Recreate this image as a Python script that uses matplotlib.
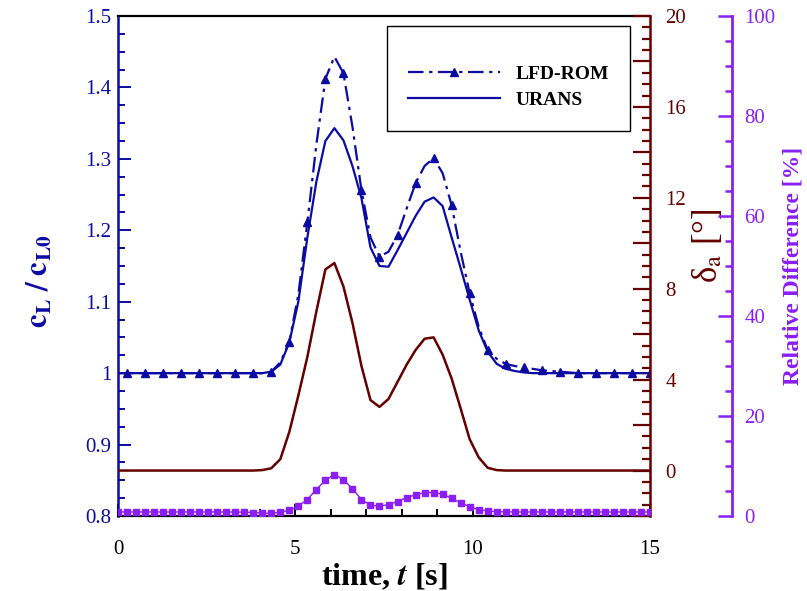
import numpy as np
import matplotlib
matplotlib.use("Agg")
import matplotlib.pyplot as plt
from matplotlib.ticker import MultipleLocator, FuncFormatter
from matplotlib.lines import Line2D

plt.rcParams["font.family"] = "serif"
plt.rcParams["font.serif"] = ["Liberation Serif", "STIXGeneral", "DejaVu Serif"]
plt.rcParams["mathtext.fontset"] = "stix"

BLUE = "#0b0ba3"
MAROON = "#650000"
PURPLE = "#8a1ef5"

# time grid (60 samples over 0..15 s)
time = np.linspace(0, 15, 60)

urans = [1.0] * 17 + [
    1.002, 1.012, 1.043, 1.100, 1.190, 1.268, 1.325, 1.343, 1.326, 1.290,
    1.245, 1.176, 1.150, 1.149, 1.172, 1.196, 1.220, 1.240, 1.246, 1.234,
    1.190, 1.147, 1.103, 1.060, 1.030, 1.013, 1.006, 1.003, 1.001,
] + [1.0] * 14

lfd_rom = [1.0] * 17 + [
    1.002, 1.015, 1.044, 1.110, 1.211, 1.320, 1.412, 1.443, 1.420, 1.345,
    1.256, 1.190, 1.163, 1.170, 1.193, 1.230, 1.266, 1.290, 1.301, 1.280,
    1.235, 1.170, 1.112, 1.065, 1.032, 1.020, 1.013, 1.010, 1.008, 1.006,
    1.004, 1.003, 1.002, 1.001,
] + [1.0] * 9

delta_a = [0.0] * 16 + [
    0.02, 0.1, 0.5, 1.7, 3.3, 5.0, 7.0, 8.85, 9.13, 8.1,
    6.5, 4.6, 3.1, 2.8, 3.15, 3.9, 4.65, 5.3, 5.8, 5.86,
    5.1, 4.05, 2.73, 1.38, 0.58, 0.12, 0.02,
] + [0.0] * 17

rel_diff = [0.8] * 13 + [
    0.78, 0.76, 0.70, 0.58, 0.56, 0.76, 1.16, 1.96, 3.3, 5.3,
    7.16, 8.3, 7.3, 5.44, 3.3, 2.16, 1.96, 2.3, 2.9, 3.7,
    4.24, 4.7, 4.7, 4.36, 3.56, 2.64, 1.84, 1.3, 1.0, 0.88, 0.82,
] + [0.8] * 16

fig = plt.figure(figsize=(8.07, 5.91), dpi=100)
ax = fig.add_axes([118 / 807, 1 - 516 / 591, 532 / 807, 500 / 591])
ax2 = ax.twinx()
ax3 = ax.twinx()

# lift coefficient
ax.plot(time, lfd_rom, color=BLUE, lw=1.6, ls=(0, (7, 2.5, 1.5, 2.5)),
        marker="^", markersize=6, markevery=(1, 2), label="LFD-ROM")
ax.plot(time, urans, color=BLUE, lw=1.6, label="URANS")
ax.set_xlim(0, 15)
ax.set_ylim(0.8, 1.5)
ax.xaxis.set_major_locator(MultipleLocator(5))
ax.xaxis.set_minor_locator(MultipleLocator(1))
ax.yaxis.set_major_locator(MultipleLocator(0.1))
ax.yaxis.set_minor_locator(MultipleLocator(0.025))
ax.yaxis.set_major_formatter(FuncFormatter(lambda v, p: f"{v:g}"))
ax.tick_params(axis="x", which="both", direction="in", colors="black",
               width=1.4, labelsize=15, pad=17)
ax.tick_params(axis="x", which="major", length=9)
ax.tick_params(axis="x", which="minor", length=5)
ax.tick_params(axis="y", which="both", direction="in", color=BLUE,
               labelcolor=BLUE, width=1.4, labelsize=15, pad=5)
ax.tick_params(axis="y", which="major", length=9)
ax.tick_params(axis="y", which="minor", length=5)
for s in ("top", "bottom"):
    ax.spines[s].set_color("black")
    ax.spines[s].set_linewidth(1.6)
ax.spines["left"].set_color(BLUE)
ax.spines["left"].set_linewidth(1.8)
ax.spines["right"].set_visible(False)
ax.set_xlabel("time, $\\mathbfit{t}$ [s]", fontsize=23, fontweight="bold")
ax.xaxis.set_label_coords(0.5, -0.092)
ax.set_ylabel("$\\mathbf{c_L\\ /\\ c_{L0}}$", fontsize=22, color=BLUE)
ax.yaxis.set_label_coords(-0.12, 0.47)

# aileron deflection
ax2.plot(time, delta_a, color=MAROON, lw=1.8)
ax2.set_ylim(-2, 20)
ax2.yaxis.set_major_locator(MultipleLocator(2))
ax2.yaxis.set_minor_locator(MultipleLocator(0.5))
ax2.yaxis.set_major_formatter(
    FuncFormatter(lambda v, p: f"{v:g}" if abs(v % 4) < 1e-6 and v >= 0 else ""))
ax2.tick_params(axis="y", which="both", direction="in", color=MAROON,
                labelcolor=MAROON, width=1.6, labelsize=15, pad=11)
ax2.tick_params(axis="y", which="major", length=12)
ax2.tick_params(axis="y", which="minor", length=6)
for s in ("left", "top", "bottom"):
    ax2.spines[s].set_visible(False)
ax2.spines["right"].set_color(MAROON)
ax2.spines["right"].set_linewidth(1.8)
ax2.set_ylabel("δ$_\\mathrm{a}$ [°]", fontsize=25, color=MAROON)
ax2.yaxis.set_label_coords(1.078, 0.54)

# relative difference
ax3.plot(time, rel_diff, color=PURPLE, lw=1.0, marker="s", markersize=4.2)
ax3.set_ylim(0, 100)
ax3.spines["right"].set_position(("axes", 1.154))
ax3.yaxis.set_major_locator(MultipleLocator(20))
ax3.yaxis.set_minor_locator(MultipleLocator(5))
ax3.tick_params(axis="y", which="both", direction="in", color=PURPLE,
                labelcolor=PURPLE, width=1.8, labelsize=15, pad=9)
ax3.tick_params(axis="y", which="major", length=10)
ax3.tick_params(axis="y", which="minor", length=5)
for s in ("left", "top", "bottom"):
    ax3.spines[s].set_visible(False)
ax3.spines["right"].set_color(PURPLE)
ax3.spines["right"].set_linewidth(2.0)
ax3.set_ylabel("Relative Difference [%]", fontsize=17, fontweight="bold",
               color=PURPLE)
ax3.yaxis.set_label_coords(1.25, 0.5)

leg = ax3.legend(
    handles=[Line2D([], [], color=BLUE, lw=1.6, ls=(0, (7, 2.5, 1.5, 2.5)),
                    marker="^", markersize=6),
             Line2D([], [], color=BLUE, lw=1.6)],
    labels=["LFD-ROM", "URANS"],
    loc="upper left", bbox_to_anchor=(387 / 807, 1 - 26 / 591),
    bbox_transform=fig.transFigure, borderaxespad=0, fancybox=False,
    framealpha=1, edgecolor="black", handlelength=4.7, handletextpad=0.8,
    labelspacing=0.45, borderpad=1.1, title=" ", title_fontsize=8,
    prop={"weight": "bold", "size": 14})
leg.get_frame().set_linewidth(1.0)

fig.savefig("out.png", dpi=100)
